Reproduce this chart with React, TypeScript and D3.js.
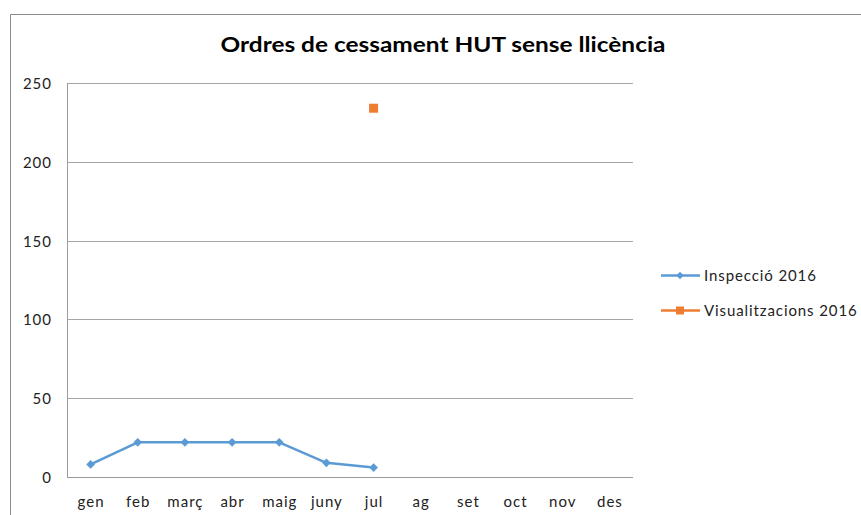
import { useRef, useEffect } from 'react'
import * as d3 from 'd3'

const months = ['gen', 'feb', 'març', 'abr', 'maig', 'juny', 'jul', 'ag', 'set', 'oct', 'nov', 'des']
const inspeccio: (number | null)[] = [8, 22, 22, 22, 22, 9, 6, null, null, null, null, null]
const visualitzacions: (number | null)[] = [null, null, null, null, null, null, 234, null, null, null, null, null]
const yTicks = [0, 50, 100, 150, 200, 250]
const seriesNames = ['Inspecció 2016', 'Visualitzacions 2016']
const colors = ['#5b9bd5', '#ed7d31']

const W = 861
const H = 515
const FONT = 'Lato, "Open Sans", sans-serif'

export default function App() {
  const ref = useRef<SVGSVGElement>(null)

  useEffect(() => {
    if (!ref.current) return
    const svg = d3.select(ref.current)
    svg.selectAll('*').remove()

    const left = 67
    const right = 633
    const top = 83
    const bottom = 477

    const x = d3.scaleBand<string>().domain(months).range([left, right])
    const y = d3.scaleLinear().domain([0, 250]).range([bottom, top])
    const cx = (m: string) => (x(m) ?? 0) + x.bandwidth() / 2

    // outer frame
    svg.append('path')
      .attr('d', `M10.5,${H + 2} V14.5 H${W + 2}`)
      .attr('fill', 'none')
      .attr('stroke', '#8c8c8c')
      .attr('stroke-width', 1)

    svg.append('text')
      .attr('x', 443)
      .attr('y', 52)
      .attr('text-anchor', 'middle')
      .attr('font-family', FONT)
      .attr('font-weight', 'bold')
      .attr('font-size', 20)
      .attr('textLength', 445)
      .attr('lengthAdjust', 'spacingAndGlyphs')
      .attr('fill', '#000')
      .text('Ordres de cessament HUT sense llicència')

    // gridlines
    svg.append('g')
      .selectAll('line')
      .data(yTicks)
      .enter()
      .append('line')
      .attr('x1', left)
      .attr('x2', right)
      .attr('y1', d => Math.round(y(d)) + 0.5)
      .attr('y2', d => Math.round(y(d)) + 0.5)
      .attr('stroke', d => (d === 0 ? '#9a9a9a' : '#a6a6a6'))
      .attr('stroke-width', 1)

    svg.append('line')
      .attr('x1', left + 0.5)
      .attr('x2', left + 0.5)
      .attr('y1', top)
      .attr('y2', bottom)
      .attr('stroke', '#9a9a9a')

    svg.append('g')
      .selectAll('text')
      .data(yTicks)
      .enter()
      .append('text')
      .attr('x', 52)
      .attr('y', d => y(d) + 6)
      .attr('text-anchor', 'end')
      .attr('font-family', FONT)
      .attr('font-size', 15)
      .attr('letter-spacing', 1)
      .attr('fill', '#222')
      .text(d => d)

    svg.append('g')
      .selectAll('text')
      .data(months)
      .enter()
      .append('text')
      .attr('x', d => cx(d) + 0.5)
      .attr('y', 507)
      .attr('text-anchor', 'middle')
      .attr('font-family', FONT)
      .attr('font-size', 15)
      .attr('letter-spacing', 1)
      .attr('fill', '#222')
      .text(d => d)

    const pts = months
      .map((m, i) => ({ m, v: inspeccio[i] }))
      .filter(d => d.v !== null) as { m: string; v: number }[]

    const line = d3.line<{ m: string; v: number }>()
      .x(d => cx(d.m))
      .y(d => y(d.v))

    svg.append('path')
      .datum(pts)
      .attr('d', line)
      .attr('fill', 'none')
      .attr('stroke', colors[0])
      .attr('stroke-width', 2.5)
      .attr('stroke-linejoin', 'round')

    const diamond = d3.symbol().type(d3.symbolDiamond2).size(48)
    svg.append('g')
      .selectAll('path')
      .data(pts)
      .enter()
      .append('path')
      .attr('d', diamond)
      .attr('transform', d => `translate(${cx(d.m)},${y(d.v)})`)
      .attr('fill', colors[0])

    const vpts = months
      .map((m, i) => ({ m, v: visualitzacions[i] }))
      .filter(d => d.v !== null) as { m: string; v: number }[]

    svg.append('g')
      .selectAll('rect')
      .data(vpts)
      .enter()
      .append('rect')
      .attr('x', d => cx(d.m) - 4.5)
      .attr('y', d => y(d.v) - 4.5)
      .attr('width', 9)
      .attr('height', 9)
      .attr('fill', colors[1])

    // legend
    const legend = svg.append('g')
    seriesNames.forEach((name, i) => {
      const ly = 275.5 + i * 35
      legend.append('line')
        .attr('x1', 661)
        .attr('x2', 700)
        .attr('y1', ly)
        .attr('y2', ly)
        .attr('stroke', colors[i])
        .attr('stroke-width', 2.5)
      if (i === 0) {
        legend.append('path')
          .attr('d', d3.symbol().type(d3.symbolDiamond2).size(36))
          .attr('transform', `translate(680,${ly})`)
          .attr('fill', colors[i])
      } else {
        legend.append('rect')
          .attr('x', 676)
          .attr('y', ly - 4)
          .attr('width', 8)
          .attr('height', 8)
          .attr('fill', colors[i])
      }
      legend.append('text')
        .attr('x', 704)
        .attr('y', ly + 5.5)
        .attr('font-family', FONT)
        .attr('font-size', 15)
        .attr('letter-spacing', 0.9)
        .attr('fill', '#222')
        .text(name)
    })
  }, [])

  return (
    <svg
      ref={ref}
      width={W}
      height={H}
      style={{ position: 'absolute', left: 0, top: 0, background: '#fff' }}
    />
  )
}
